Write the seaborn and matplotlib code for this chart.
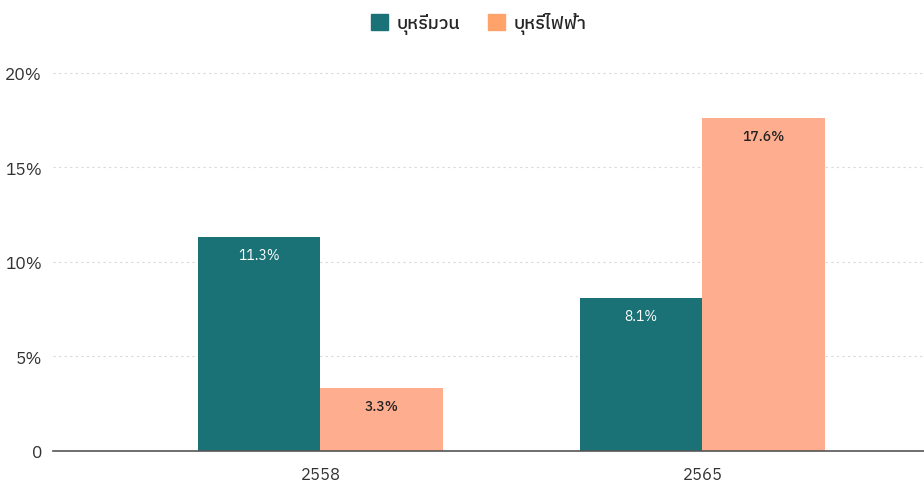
import matplotlib

matplotlib.use("Agg")

import matplotlib.pyplot as plt
import matplotlib.patches as mpatches
import pandas as pd
import seaborn as sns

# Data
years = ["2558", "2565"]
series = ["บุหรี่มวน", "บุหรี่ไฟฟ้า"]
cigarette = [11.3, 8.1]
ecigarette = [3.3, 17.6]
y_ticks = [0, 5, 10, 15, 20]
y_tick_labels = ["0", "5%", "10%", "15%", "20%"]

bar_colors = ["#1b7276", "#feae8f"]
legend_colors = ["#1b7276", "#ffa36b"]
label_colors = ["white", "#222222"]

sns.set_theme(style="white")
plt.rcParams["font.family"] = ["IBM Plex Sans Thai", "IBM Plex Sans", "DejaVu Sans"]

df = pd.DataFrame(
    {
        "year": years * 2,
        "type": [series[0]] * 2 + [series[1]] * 2,
        "value": cigarette + ecigarette,
    }
)

fig = plt.figure(figsize=(9.24, 4.85), dpi=100)
ax = fig.add_axes([53 / 924, 33.4 / 485, 1 - 53 / 924, 391 / 485])

sns.barplot(
    data=df, x="year", y="value", hue="type", palette=bar_colors,
    width=0.64, saturation=1, ax=ax, legend=False, linewidth=0,
)

ax.set_xlim(-0.7, 1.58)
ax.set_ylim(0, 20.7)
ax.set_yticks(y_ticks)
ax.set_yticklabels(y_tick_labels, fontsize=12.5, color="#333333")
ax.tick_params(axis="x", labelsize=12, colors="#333333", length=0, pad=11)
ax.tick_params(axis="y", length=0, pad=8)
ax.set_xlabel("")
ax.set_ylabel("")

for t in y_ticks[1:]:
    ax.axhline(t, color="#d9d9d9", linestyle=(0, (2, 3)), linewidth=0.8, zorder=0)

for s in ["left", "right", "top"]:
    ax.spines[s].set_visible(False)
ax.spines["bottom"].set_color("#555555")
ax.spines["bottom"].set_linewidth(1.2)

for i, cont in enumerate(ax.containers):
    for bar in cont:
        h = bar.get_height()
        ax.text(
            bar.get_x() + bar.get_width() / 2, h - 0.95, f"{h:.1f}%",
            ha="center", va="center", fontsize=10, color=label_colors[i],
            fontweight="medium" if i == 1 else "normal",
        )

handles = [mpatches.Patch(color=c, label=s) for c, s in zip(legend_colors, series)]
fig.legend(
    handles=handles, loc="center", bbox_to_anchor=(0.518, 1 - 24 / 485), ncol=2,
    frameon=False, prop={"size": 13, "weight": "medium"}, handlelength=0.95,
    handleheight=0.95, handletextpad=0.5, columnspacing=1.5,
)

fig.savefig("out.png", dpi=100)
